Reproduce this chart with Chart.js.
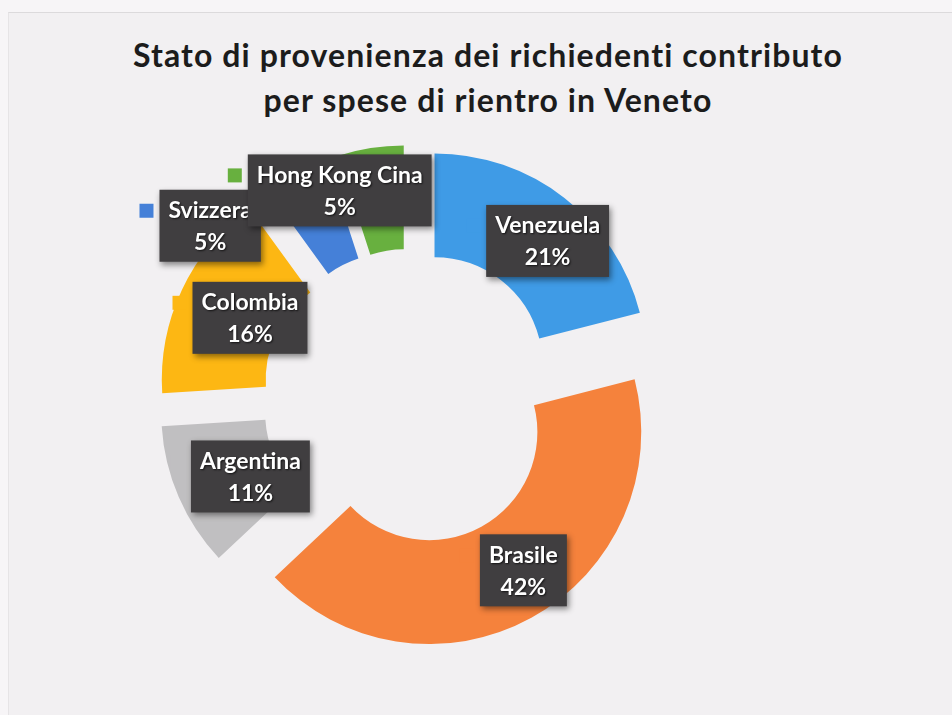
<!DOCTYPE html>
<html>
<head>
<meta charset="utf-8">
<script src="https://cdn.jsdelivr.net/npm/chart.js@4.4.1/dist/chart.umd.min.js"></script>
<style>
  html, body { margin: 0; padding: 0; width: 952px; height: 715px; background: #f7f5f7; overflow: hidden; }
  #slide { position: absolute; left: 8px; top: 12px; width: 944px; height: 703px; background: #f2f0f2; border-top: 1px solid #dcdadc; border-left: 1px solid #e6e4e6; }
  #title { position: absolute; left: 0; top: 32px; width: 976px; text-align: center; font-family: Lato, "Open Sans", sans-serif; font-weight: bold; font-size: 32px; letter-spacing: 1.1px; line-height: 45px; color: #1c1c1c; }
  #wrap { position: absolute; left: 0; top: 0; width: 952px; height: 715px; }
</style>
</head>
<body>
<div id="slide"></div>
<div id="title">Stato di provenienza dei richiedenti contributo<br>per spese di rientro in Veneto</div>
<div id="wrap"><canvas id="c" width="952" height="715"></canvas></div>
<script>
const categories = ["Venezuela", "Brasile", "Argentina", "Colombia", "Svizzera", "Hong Kong Cina"];
const percentValues = [21, 42, 11, 16, 5, 5];
const percentLabels = ["21%", "42%", "11%", "16%", "5%", "5%"];
const sliceColors = ["#3f9be6", "#f5823c", "#c0bfc1", "#fdb713", "#4580d8", "#68b03f"];
// label placement nudges (px) relative to each slice's centroid
const labelNudgeX = [15, 17, 24, 21, -109, -39];
const labelNudgeY = [2, -2, 0, 6, 7, -9];

const EXPLODE = 40; // pixel shift of each slice away from the centre

// draw each arc element translated outward along its mid angle (pure "exploded" shift)
const explodePlugin = {
  id: 'explode',
  beforeDatasetDraw(chart, args) {
    const ctx = chart.ctx;
    args.meta.data.forEach((arc) => {
      const p = arc.getProps(['startAngle', 'endAngle'], true);
      const mid = (p.startAngle + p.endAngle) / 2;
      ctx.save();
      ctx.translate(Math.cos(mid) * EXPLODE, Math.sin(mid) * EXPLODE);
      arc.draw(ctx, chart.chartArea);
      ctx.restore();
    });
    return false;
  }
};

const labelPlugin = {
  id: 'boxLabels',
  afterDatasetsDraw(chart) {
    const ctx = chart.ctx;
    const meta = chart.getDatasetMeta(0);
    ctx.save();
    ctx.font = 'bold 23px Lato, "Open Sans", sans-serif';
    meta.data.forEach((arc, i) => {
      const p = arc.getProps(['x', 'y', 'startAngle', 'endAngle', 'innerRadius', 'outerRadius'], true);
      const mid = (p.startAngle + p.endAngle) / 2;
      const r = EXPLODE + (p.innerRadius + p.outerRadius) / 2;
      const cx = p.x + Math.cos(mid) * r + labelNudgeX[i];
      const cy = p.y + Math.sin(mid) * r + labelNudgeY[i];
      const l1 = categories[i], l2 = percentLabels[i];
      const tw = Math.max(ctx.measureText(l1).width, ctx.measureText(l2).width);
      const w = tw + 18, h = 72;
      const bx = cx - w / 2, by = cy - h / 2;
      // legend key
      ctx.shadowColor = 'transparent';
      ctx.fillStyle = sliceColors[i];
      ctx.fillRect(bx - 20, by + 14, 14, 14);
      // box with shadow
      ctx.shadowColor = 'rgba(0,0,0,0.45)';
      ctx.shadowBlur = 6;
      ctx.shadowOffsetX = 2;
      ctx.shadowOffsetY = 3;
      ctx.fillStyle = '#403e40';
      ctx.fillRect(bx, by, w, h);
      ctx.shadowColor = 'rgba(0,0,0,0.7)';
      ctx.shadowBlur = 2;
      ctx.shadowOffsetX = 1;
      ctx.shadowOffsetY = 1;
      ctx.fillStyle = '#ffffff';
      ctx.textAlign = 'center';
      ctx.textBaseline = 'middle';
      ctx.fillText(l1, cx, by + 21);
      ctx.fillText(l2, cx, by + 53);
    });
    ctx.restore();
  }
};

new Chart(document.getElementById('c'), {
  type: 'doughnut',
  data: {
    labels: categories,
    datasets: [{
      data: percentValues,
      backgroundColor: sliceColors,
      borderWidth: 0,
      offset: 0,
      hoverOffset: 0
    }]
  },
  options: {
    responsive: false,
    animation: false,
    radius: 212,
    cutout: '51%',
    layout: { padding: { left: 100, right: 232, top: 150, bottom: 71 } },
    plugins: {
      legend: { display: false },
      title: { display: false },
      tooltip: { enabled: false }
    },
    events: []
  },
  plugins: [explodePlugin, labelPlugin]
});
</script>
</body>
</html>
